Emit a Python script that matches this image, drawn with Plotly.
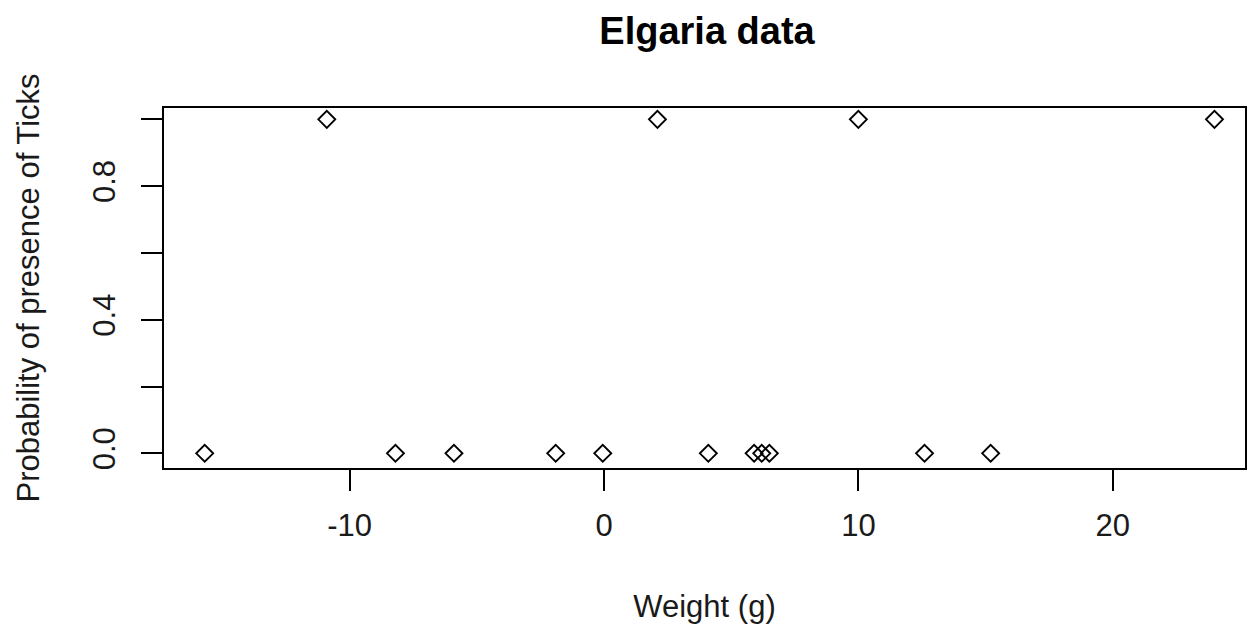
import plotly.graph_objects as go

# Data
weight_absent = [-15.7, -8.2, -5.9, -1.9, -0.05, 4.1, 5.9, 6.2, 6.5, 12.6, 15.2]
presence_absent = [0] * len(weight_absent)
weight_present = [-10.9, 2.1, 10.0, 24.0]
presence_present = [1] * len(weight_present)

x_tickvals = [-10, 0, 10, 20]
x_ticktext = ["-10", "0", "10", "20"]
y_tickvals = [0, 0.2, 0.4, 0.6, 0.8, 1.0]
y_ticktext = ["0.0", "", "0.4", "", "0.8", ""]

xs = weight_absent + weight_present
ys = presence_absent + presence_present

FONT = "Liberation Sans, Arial, sans-serif"

# page body has an 8px margin; compensate so the plot box lands at 164..1245 x 108..468
W, H = 1250, 621
fig = go.Figure()
fig.add_trace(go.Scatter(
    x=xs, y=ys, mode="markers",
    marker=dict(symbol="diamond-open", size=13, color="black", line=dict(width=1.9, color="black")),
    showlegend=False,
))

fig.update_layout(
    width=W, height=H,
    margin=dict(l=156, r=13, t=100, b=161),
    paper_bgcolor="white", plot_bgcolor="white",
    font=dict(family=FONT, color="#1a1a1a", size=31),
    title=dict(text="<b>Elgaria data</b>", x=(707 - 8) / W, xanchor="center",
               y=1 - (31 - 8) / H, yanchor="middle", font=dict(size=38, color="black", family=FONT)),
    xaxis=dict(range=[-17.3, 25.2], tickvals=x_tickvals, ticktext=x_ticktext,
               showgrid=False, zeroline=False, showline=True, linecolor="black", linewidth=2,
               mirror=True, ticks="outside", ticklen=21, tickwidth=2, tickcolor="black",
               ticklabelstandoff=8,
               title=dict(text="Weight (g)", standoff=53, font=dict(size=31))),
    yaxis=dict(range=[-0.044, 1.034], tickvals=y_tickvals, ticktext=y_ticktext,
               showgrid=False, zeroline=False, showline=True, linecolor="black", linewidth=2,
               mirror=True, ticks="outside", ticklen=21, tickwidth=2, tickcolor="black",
               tickangle=-90, ticklabelstandoff=14,
               title=dict(text="Probability of presence of Ticks", standoff=38, font=dict(size=31))),
)

fig.write_html("out.html")
